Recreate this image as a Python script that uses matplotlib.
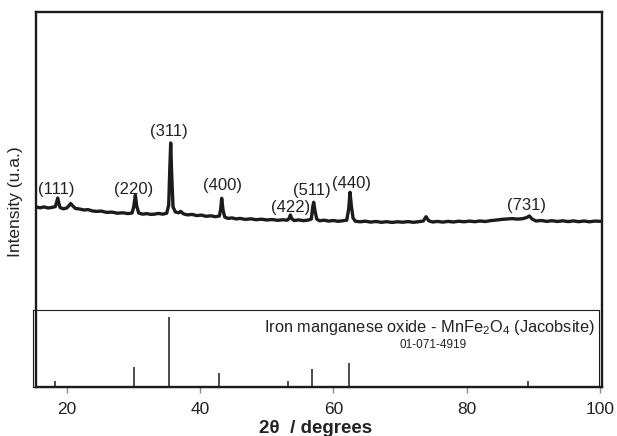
import matplotlib
matplotlib.use('Agg')
import matplotlib.pyplot as plt

plt.rcParams['font.family'] = ['Liberation Sans', 'DejaVu Sans']
plt.rcParams['mathtext.fontset'] = 'custom'
plt.rcParams['mathtext.rm'] = 'Liberation Sans'
plt.rcParams['mathtext.default'] = 'rm'

# measured XRD pattern (2theta, intensity in arbitrary units)
two_theta = [15.4, 16.0, 16.6, 17.2, 17.8, 18.3, 18.5, 18.65, 18.8, 19.0,
             19.5, 20.0, 20.3, 20.6, 20.9, 21.3, 22.0, 22.6, 23.2, 23.8,
             24.5, 25.2, 26.0, 26.8, 27.6, 28.4, 29.2, 29.8, 30.05, 30.3,
             30.5, 30.8, 31.4, 32.0, 32.6, 33.2, 33.8, 34.4, 35.0, 35.3,
             35.45, 35.6, 35.75, 35.95, 36.3, 36.8, 37.1, 37.5, 38.1, 38.8,
             39.5, 40.2, 40.9, 41.6, 42.3, 42.9, 43.1, 43.25, 43.45, 43.7,
             44.2, 44.8, 45.4, 46.0, 46.8, 47.6, 48.4, 49.2, 50.0, 50.8,
             51.6, 52.4, 53.1, 53.4, 53.55, 53.75, 54.1, 54.8, 55.5, 56.2,
             56.7, 56.9, 57.05, 57.25, 57.5, 57.9, 58.6, 59.3, 60.0, 60.7,
             61.4, 62.0, 62.3, 62.5, 62.7, 62.95, 63.3, 64.0, 64.8, 65.6,
             66.4, 67.2, 68.0, 68.8, 69.6, 70.4, 71.2, 72.0, 72.8, 73.5,
             73.9, 74.3, 74.9, 75.6, 76.4, 77.2, 78.0, 78.8, 79.6, 80.4,
             81.2, 82.0, 82.8, 83.6, 84.4, 85.2, 86.0, 86.8, 87.6, 88.4,
             89.0, 89.4, 89.8, 90.4, 91.2, 92.0, 92.8, 93.6, 94.4, 95.2,
             96.0, 96.8, 97.6, 98.4, 99.2, 100.3]
intensity = [180.0, 179.2, 180.1, 179.0, 179.6, 180.4, 185.0, 189.0, 184.5, 179.5,
             178.2, 179.0, 181.0, 183.5, 181.2, 178.6, 177.9, 177.0, 177.4, 176.1,
             175.6, 175.9, 174.6, 174.9, 173.8, 174.2, 173.4, 174.0, 180.0, 192.0,
             181.0, 174.0, 172.8, 173.4, 172.6, 172.9, 173.6, 172.8, 173.8, 182.0,
             215.0, 244.0, 212.0, 180.0, 175.0, 174.2, 175.6, 173.2, 172.1, 172.6,
             171.4, 171.9, 170.7, 171.2, 170.3, 171.0, 178.0, 188.7, 177.0, 170.0,
             168.6, 169.1, 168.1, 168.6, 167.6, 168.2, 167.3, 167.8, 167.0, 167.5,
             166.7, 167.2, 166.8, 169.0, 172.0, 168.5, 166.5, 167.1, 166.3, 166.9,
             168.0, 180.0, 184.7, 176.0, 168.0, 166.2, 166.8, 165.9, 166.5, 165.7,
             166.2, 166.8, 178.0, 194.7, 181.0, 169.0, 165.8, 165.2, 165.8, 164.9,
             165.5, 164.7, 165.3, 164.6, 165.2, 164.8, 165.4, 164.7, 165.3, 166.0,
             170.3, 166.2, 165.0, 165.6, 164.9, 165.6, 165.0, 165.8, 165.2, 165.9,
             165.3, 166.0, 165.5, 166.4, 166.9, 167.6, 168.0, 168.4, 167.9, 168.3,
             169.5, 171.0, 168.0, 166.0, 166.5, 165.6, 166.3, 165.5, 166.2, 165.4,
             166.1, 165.3, 166.0, 165.2, 165.9, 165.6]

# peak labels (Miller indices)
hkl = ['(111)', '(220)', '(311)', '(400)', '(422)', '(511)', '(440)', '(731)']
label_x = [18.5, 30.1, 35.4, 43.4, 53.6, 56.8, 62.7, 89.0]
label_y = [197.7, 197.7, 256.0, 202.0, 179.7, 197.0, 203.7, 182.0]

# reference card 01-071-4919 (Jacobsite)
ref_theta = [18.25, 30.05, 35.35, 42.9, 53.2, 56.75, 62.3, 89.25]
ref_rel = [8, 29, 100, 20, 8, 26, 35, 8]

fig = plt.figure(figsize=(6.17, 4.36), dpi=100)
ax = fig.add_axes([36.3 / 617, 1 - 387 / 436, 565.4 / 617, 375 / 436])
ax.plot(two_theta, intensity, color='#1c1c1c', lw=2.4)
for t, x, y in zip(hkl, label_x, label_y):
    ax.text(x, y, t, ha='center', va='center', fontsize=12, color='#222222')

ax.set_xlim(15.44, 100.25)
ax.set_ylim(0, 375)
ax.set_yticks([])
ax.set_xticks([20, 40, 60, 80, 100])
ax.tick_params(axis='x', direction='out', length=4, width=1, color='0.55',
               labelsize=12.5, pad=7, labelcolor='#222222')
for s in ax.spines.values():
    s.set_linewidth(1.7)
    s.set_color('#1c1c1c')

# inset with reference pattern
ax2 = fig.add_axes([33.3 / 617, 1 - 387 / 436, 566 / 617, 77 / 436])
ax2.patch.set_alpha(0)
ax2.vlines(ref_theta, 0, ref_rel, color='#1c1c1c', lw=1.1)
ax2.set_xlim(14.99, 99.89)
ax2.set_ylim(0, 110.5)
ax2.set_xticks([])
ax2.set_yticks([])
for s in ax2.spines.values():
    s.set_linewidth(0.8)
    s.set_color('#1c1c1c')
ax2.text(0.992, 0.77, 'Iron manganese oxide - MnFe$_2$O$_4$ (Jacobsite)',
         transform=ax2.transAxes, ha='right', va='center', fontsize=11.8, color='#222222')
ax2.text(0.706, 0.545, '01-071-4919', transform=ax2.transAxes,
         ha='center', va='center', fontsize=8.5, color='#222222')

fig.text(16 / 617, 1 - 202 / 436, 'Intensity (u.a.)', rotation=90,
         ha='center', va='center', fontsize=12.5, color='#222222')
fig.text(316 / 617, 1 - 428 / 436, '2θ  / degrees', ha='center', va='center',
         fontsize=13.5, fontweight='bold', color='#222222')

fig.savefig('out.png', dpi=100)
